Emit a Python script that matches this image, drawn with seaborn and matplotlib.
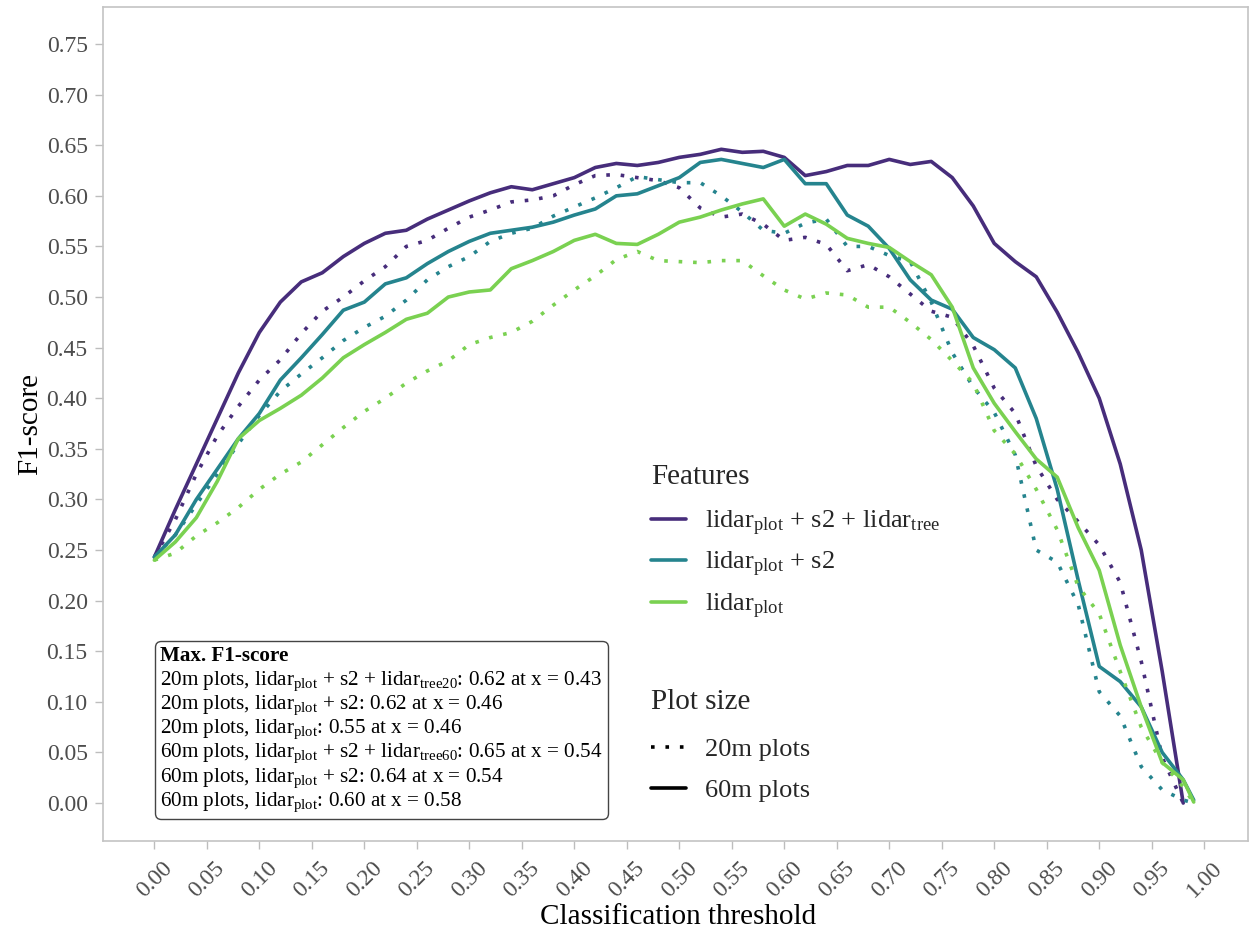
import numpy as np
import pandas as pd
import matplotlib.pyplot as plt
from matplotlib.lines import Line2D
from matplotlib.offsetbox import AnchoredOffsetbox, TextArea, VPacker
import seaborn as sns

# classification thresholds (0.00 ... 0.98 by 0.02, then 0.99)
thresholds = np.append(np.arange(0, 0.99, 0.02), 0.99)

# 60m plots
f1_full_60 = [0.243, 0.29, 0.335, 0.38, 0.425, 0.465, 0.495, 0.515, 0.524, 0.54,
              0.553, 0.563, 0.566, 0.577, 0.586, 0.595, 0.603, 0.609, 0.606, 0.612,
              0.618, 0.628, 0.632, 0.630, 0.633, 0.638, 0.641, 0.646, 0.643, 0.644,
              0.638, 0.620, 0.624, 0.630, 0.630, 0.636, 0.631, 0.634, 0.618, 0.59,
              0.553, 0.535, 0.52, 0.485, 0.445, 0.40, 0.335, 0.25, 0.13, 0.0,
              np.nan]
f1_s2_60 = [0.243, 0.265, 0.30, 0.33, 0.36, 0.385, 0.418, 0.44, 0.463, 0.487,
            0.495, 0.513, 0.519, 0.533, 0.545, 0.555, 0.563, 0.566, 0.569, 0.574,
            0.581, 0.587, 0.600, 0.602, 0.610, 0.618, 0.633, 0.636, 0.632, 0.628,
            0.636, 0.612, 0.612, 0.581, 0.570, 0.548, 0.517, 0.497, 0.488, 0.46,
            0.448, 0.43, 0.38, 0.31, 0.22, 0.135, 0.12, 0.095, 0.05, 0.023,
            0.003]
f1_plot_60 = [0.24, 0.258, 0.282, 0.318, 0.36, 0.378, 0.39, 0.403, 0.42, 0.44,
              0.453, 0.465, 0.478, 0.484, 0.50, 0.505, 0.507, 0.528, 0.536, 0.545,
              0.556, 0.562, 0.553, 0.552, 0.562, 0.574, 0.579, 0.586, 0.592, 0.597,
              0.57, 0.582, 0.572, 0.558, 0.553, 0.549, 0.535, 0.522, 0.49, 0.43,
              0.395, 0.367, 0.34, 0.322, 0.272, 0.23, 0.156, 0.095, 0.04, 0.023,
              0.001]

# 20m plots
f1_full_20 = [0.243, 0.28, 0.325, 0.363, 0.392, 0.418, 0.438, 0.464, 0.486, 0.50,
              0.516, 0.53, 0.55, 0.556, 0.568, 0.579, 0.586, 0.594, 0.596, 0.60,
              0.611, 0.62, 0.621, 0.618, 0.615, 0.608, 0.588, 0.579, 0.582, 0.572,
              0.556, 0.559, 0.552, 0.526, 0.532, 0.52, 0.503, 0.486, 0.48, 0.452,
              0.41, 0.385, 0.333, 0.30, 0.278, 0.255, 0.218, 0.14, 0.045, 0.0,
              np.nan]
f1_s2_20 = [0.243, 0.265, 0.295, 0.325, 0.355, 0.383, 0.407, 0.424, 0.44, 0.457,
            0.47, 0.481, 0.497, 0.517, 0.53, 0.54, 0.555, 0.563, 0.568, 0.58,
            0.589, 0.598, 0.608, 0.619, 0.616, 0.613, 0.613, 0.60, 0.584, 0.566,
            0.563, 0.573, 0.577, 0.55, 0.55, 0.541, 0.535, 0.495, 0.445, 0.411,
            0.386, 0.344, 0.25, 0.238, 0.196, 0.11, 0.086, 0.036, 0.013, 0.003,
            0.0]
f1_plot_20 = [0.24, 0.247, 0.264, 0.277, 0.292, 0.31, 0.325, 0.337, 0.354, 0.371,
              0.387, 0.40, 0.415, 0.427, 0.437, 0.453, 0.46, 0.465, 0.476, 0.492,
              0.507, 0.521, 0.537, 0.545, 0.536, 0.535, 0.534, 0.536, 0.536, 0.521,
              0.507, 0.498, 0.504, 0.502, 0.49, 0.49, 0.475, 0.458, 0.437, 0.415,
              0.368, 0.345, 0.31, 0.27, 0.214, 0.187, 0.13, 0.075, 0.04, 0.016,
              0.0]

features = ['full', 's2', 'plot']
feature_labels = [r'lidar$_{\mathrm{plot}}$ + s2 + lidar$_{\mathrm{tree}}$',
                  r'lidar$_{\mathrm{plot}}$ + s2',
                  r'lidar$_{\mathrm{plot}}$']
plot_sizes = ['20m plots', '60m plots']
colors = ['#472d7b', '#25848e', '#7ad151']

max_title = 'Max. F1-score'
max_lines = [
    r'20m plots, lidar$_{\mathrm{plot}}$ + s2 + lidar$_{\mathrm{tree20}}$: 0.62 at x = 0.43',
    r'20m plots, lidar$_{\mathrm{plot}}$ + s2: 0.62 at x = 0.46',
    r'20m plots, lidar$_{\mathrm{plot}}$: 0.55 at x = 0.46',
    r'60m plots, lidar$_{\mathrm{plot}}$ + s2 + lidar$_{\mathrm{tree60}}$: 0.65 at x = 0.54',
    r'60m plots, lidar$_{\mathrm{plot}}$ + s2: 0.64 at x = 0.54',
    r'60m plots, lidar$_{\mathrm{plot}}$: 0.60 at x = 0.58',
]

series = {
    ('full', '20m plots'): f1_full_20,
    ('s2', '20m plots'): f1_s2_20,
    ('plot', '20m plots'): f1_plot_20,
    ('full', '60m plots'): f1_full_60,
    ('s2', '60m plots'): f1_s2_60,
    ('plot', '60m plots'): f1_plot_60,
}
frames = []
for (feat, size), vals in series.items():
    frames.append(pd.DataFrame({'threshold': thresholds, 'f1': vals,
                                'features': feat, 'plot_size': size}))
df = pd.concat(frames, ignore_index=True).dropna()

sns.set_theme(style='white')
plt.rcParams['font.family'] = ['Liberation Serif', 'DejaVu Serif']
plt.rcParams['mathtext.fontset'] = 'custom'
plt.rcParams['mathtext.rm'] = 'Liberation Serif'
plt.rcParams['mathtext.it'] = 'Liberation Serif:italic'
plt.rcParams['mathtext.bf'] = 'Liberation Serif:bold'

fig = plt.figure(figsize=(12.52, 9.32), dpi=100)
ax = fig.add_axes([103 / 1252, 1 - 841 / 932, (1248 - 103) / 1252, (841 - 7) / 932])

palette = dict(zip(features, colors))
sns.lineplot(data=df, x='threshold', y='f1', hue='features', style='plot_size',
             hue_order=features, style_order=plot_sizes, palette=palette,
             dashes={'20m plots': (1, 3), '60m plots': ''},
             estimator=None, sort=False, linewidth=2.6, legend=False, ax=ax)

ax.set_xlim(-0.0489, 1.0417)
ax.set_ylim(-0.0375, 0.7866)
ax.set_xticks(np.round(np.arange(0, 1.001, 0.05), 2))
ax.set_yticks(np.round(np.arange(0, 0.751, 0.05), 2))
ax.set_xticklabels([f'{t:.2f}' for t in ax.get_xticks()], rotation=45)
ax.set_yticklabels([f'{t:.2f}' for t in ax.get_yticks()])
ax.tick_params(axis='both', which='major', length=6, width=1, color='#bdbdbd',
               labelcolor='#4d4d4d', labelsize=17, bottom=True, left=True)
ax.tick_params(axis='x', pad=6)
ax.tick_params(axis='y', pad=5)
for side in ['left', 'right', 'top', 'bottom']:
    ax.spines[side].set_color('#c4c4c4')
    ax.spines[side].set_linewidth(1.2)

ax.set_xlabel('Classification threshold', fontsize=21, color='black')
ax.set_ylabel('F1-score', fontsize=21, color='black')
ax.xaxis.set_label_coords(0.502, -0.075, transform=ax.transAxes)
ax.yaxis.set_label_coords(-0.052, 0.5, transform=ax.transAxes)

# legends
feat_handles = [Line2D([0], [0], color=c, lw=2.6) for c in colors]
leg1 = fig.legend(feat_handles, feature_labels, title='Features', loc='upper left',
                  bbox_to_anchor=(638 / 1252, 1 - 451 / 932), frameon=False,
                  fontsize=19, title_fontsize=21, handlelength=1.3,
                  handletextpad=0.75, labelspacing=0.48, borderpad=0,
                  alignment='left')
leg1._legend_box.sep = 0.48 * 19 + 4
size_handles = [Line2D([0], [0], color='black', lw=2.6, linestyle=(0, (1, 3))),
                Line2D([0], [0], color='black', lw=2.6)]
leg2 = fig.legend(size_handles, plot_sizes, title='Plot size', loc='upper left',
                  bbox_to_anchor=(638 / 1252, 1 - 676 / 932), frameon=False,
                  fontsize=19, title_fontsize=21, handlelength=1.3,
                  handletextpad=0.75, labelspacing=0.65, borderpad=0,
                  alignment='left')
leg2._legend_box.sep = 0.65 * 19 + 4

# max F1 box
title_area = TextArea(max_title, textprops=dict(fontsize=15.2, fontweight='bold',
                                                color='black'))
body_area = TextArea('\n'.join(max_lines),
                     textprops=dict(fontsize=15.2, linespacing=1.05, color='black'))
pack = VPacker(children=[title_area, body_area], align='left', pad=0, sep=2)
box = AnchoredOffsetbox(loc='upper left', child=pack, pad=0.25, borderpad=0,
                        frameon=True, prop=dict(size=15.2),
                        bbox_to_anchor=(155 / 1252, 1 - 641 / 932),
                        bbox_transform=fig.transFigure)
box.patch.set_boxstyle('round,pad=0,rounding_size=0.3')
box.patch.set_edgecolor('#444444')
box.patch.set_facecolor('white')
box.patch.set_linewidth(1)
ax.add_artist(box)

fig.savefig('out.png', dpi=100)
